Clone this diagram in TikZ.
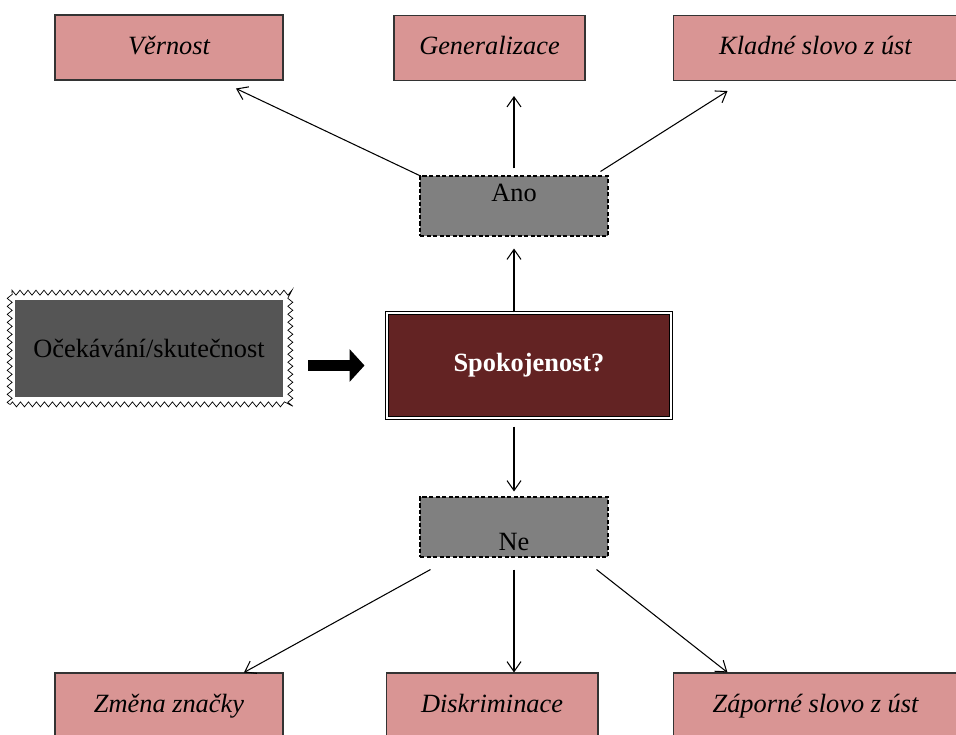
\documentclass[tikz,border=0pt]{standalone}
\usepackage{fontspec}
\setmainfont{Liberation Serif}
\usetikzlibrary{arrows.meta,decorations.pathmorphing}
\tikzset{
  box/.style={
    rectangle,
    inner sep=0pt,
    font=\fontsize{15}{18}\selectfont
  },
  outcome/.style={
    box,
    draw=black!80,
    line width=0.6pt,
    fill=outcomepink,
    minimum height=1.3cm,
    text height=10.5pt,
    text depth=3pt,
    font=\fontsize{15}{18}\selectfont\itshape
  },
  choice/.style={
    box,
    draw=black,
    line width=0.6pt,
    dash pattern=on 2.5pt off 1.2pt,
    fill=choicegray,
    minimum width=3.76cm,
    minimum height=1.2cm
  },
  satisfaction/.style={
    box,
    draw=black,
    line width=0.6pt,
    double=white,
    double distance=1.2pt,
    fill=satisfred,
    text=white,
    minimum width=5.68cm,
    minimum height=2.1cm,
    font=\fontsize{15}{18}\selectfont\bfseries
  },
  expectation/.style={
    box,
    fill=expectgray,
    minimum width=5.36cm,
    minimum height=1.94cm
  },
  zigzag-frame/.style={
    draw=black,
    line width=0.4pt,
    decorate,
    decoration={zigzag, segment length=0.16cm, amplitude=0.05cm}
  },
  link/.style={line width=0.6pt, -{Straight Barb[length=2mm, width=2.8mm]}},
  fat-arrow/.style={line width=0.22cm, -{Triangle[length=0.3cm, width=0.64cm]}}
}
\definecolor{outcomepink}{RGB}{217,149,148}
\definecolor{choicegray}{RGB}{128,128,128}
\definecolor{satisfred}{RGB}{99,35,35}
\definecolor{expectgray}{RGB}{85,85,85}

\begin{document}
\begin{tikzpicture}[x=0.02cm, y=-0.02cm]
  \useasboundingbox (0,0) rectangle (956,734);

  % top row
  \node[outcome, minimum width=4.56cm] (vernost) at (169,47.5) {Věrnost};
  \node[outcome, minimum width=3.82cm] (general) at (489.5,48) {Generalizace};
  \node[outcome, minimum width=5.7cm] (kladne) at (815.5,48) {Kladné slovo z úst};

  \node[choice, text height=10pt, text depth=15.6pt] (ano) at (514,206) {Ano};
  \node[satisfaction] (spok) at (529,365.5) {Spokojenost?};
  \node[expectation] (ocek) at (149,348.5) {Očekávání/skutečnost};
  \node[choice, text height=27pt, text depth=0pt] (ne) at (514,527) {Ne};

  % bottom row
  \node[outcome, minimum width=4.56cm] (zmena) at (169,705.5) {Změna značky};
  \node[outcome, minimum width=4.24cm] (diskrim) at (492,705.5) {Diskriminace};
  \node[outcome, minimum width=5.7cm] (zaporne) at (815.5,705.5) {Záporné slovo z úst};

  \draw[zigzag-frame] ([shift={(-0.1cm,-0.14cm)}]ocek.south west) rectangle ([shift={(0.14cm,0.14cm)}]ocek.north east);
  \draw[fat-arrow] ([xshift=0.5cm]ocek.east |- spok.west) -- ([xshift=-0.44cm]spok.west);

  \draw[link] (spok.north -| ano.south) -- ([yshift=-0.24cm]ano.south);
  \draw[link] (ano.north west) -- ([shift={(1.34cm,-0.16cm)}]vernost.south);
  \draw[link] ([yshift=0.14cm]ano.north) -- ([yshift=-0.3cm]general.south -| ano.north);
  \draw[link] ([shift={(-0.16cm,0.08cm)}]ano.north east) -- ([shift={(1.1cm,-0.2cm)}]kladne.south west);

  \draw[link] ([yshift=-0.16cm]spok.south -| ne.north) -- ([yshift=0.1cm]ne.north);
  \draw[link] ([shift={(0.22cm,-0.24cm)}]ne.south west) -- ([xshift=1.5cm]zmena.north);
  \draw[link] ([yshift=-0.24cm]ne.south) -- (diskrim.north -| ne.south);
  \draw[link] ([shift={(-0.24cm,-0.24cm)}]ne.south east) -- ([xshift=1.1cm]zaporne.north west);
\end{tikzpicture}
\end{document}
